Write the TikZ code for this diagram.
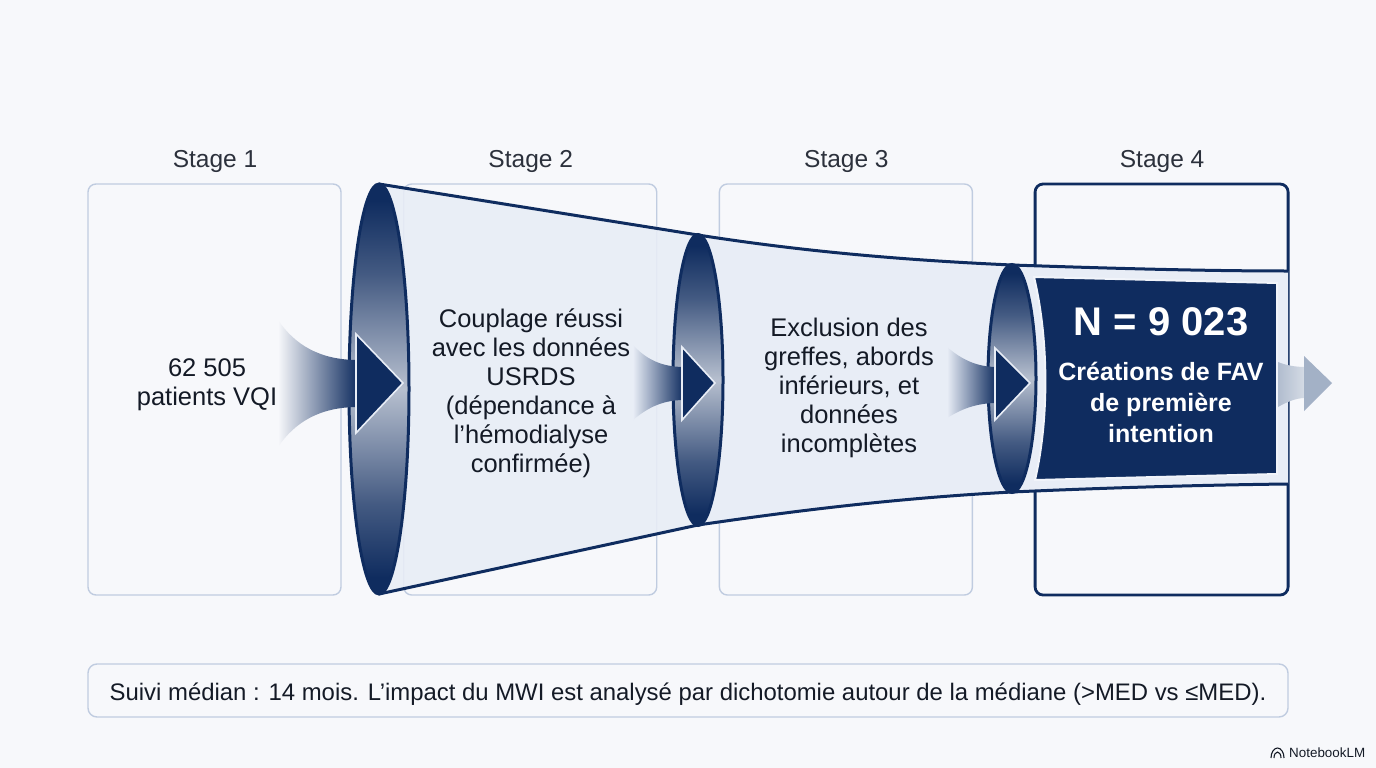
\documentclass[tikz,border=0pt]{standalone}
\usepackage{fontspec}
\setmainfont{Liberation Sans}
\usetikzlibrary{shapes,positioning}
\definecolor{navy}{HTML}{0F2C5F}
\definecolor{pagebg}{HTML}{F7F8FB}
\definecolor{rim}{HTML}{C0CCE0}
\definecolor{funnelfill}{HTML}{E8EDF6}
\definecolor{ink}{HTML}{141A26}
\definecolor{softarrow}{HTML}{A3B1C6}
\pgfdeclareverticalshading{lensfade}{100bp}{color(0bp)=(navy); color(27bp)=(navy); color(36bp)=(navy!78!white); color(50bp)=(navy!30!white); color(64bp)=(navy!78!white); color(73bp)=(navy); color(100bp)=(navy)}
\begin{document}
\begin{tikzpicture}[x=1pt, y=-1pt, node distance=315.7pt and 315.7pt, on grid,
    stagebox/.style={draw=rim, line width=1.4pt, rounded corners=8pt, minimum width=253pt, minimum height=411pt, inner sep=0pt, outer sep=0pt},
    stagelabel/.style={text=ink!90, font=\fontsize{24.5}{28}\selectfont},
    body/.style={text=ink, align=center, font=\fontsize{25.5}{29}\selectfont},
    lens/.style={ellipse, draw=navy, line width=3pt, inner sep=0pt, outer sep=0pt, shading=lensfade},
    funnelline/.style={draw=navy, line width=3pt},
    tail/.style={right color=navy},
    head/.style={fill=navy, draw=funnelfill, line width=1.6pt, line join=miter}]
    \useasboundingbox (0,0) rectangle (1376,768);
    \fill[pagebg] (0,0) rectangle (1376,768);

    % Four stage frames side by side
    \node[stagebox] (s_1) at (214.5,389.5) {};
    \node[stagebox] (s_2) [right=of s_1] {};
    \node[stagebox] (s_3) [right=of s_2] {};
    \node[stagebox, draw=navy, line width=2.8pt] (s_4) [right=of s_3] {};
    \node[stagelabel] (l_1) at (215,161) {Stage 1};
    \node[stagelabel] (l_2) [right=of l_1] {Stage 2};
    \node[stagelabel] (l_3) [right=of l_2] {Stage 3};
    \node[stagelabel] (l_4) [right=of l_3] {Stage 4};

    % Funnel anchors
    \coordinate (e_1) at (379,389);
    \coordinate (e_2) at (698,380);
    \coordinate (e_3) at (1012,378.5);
    \coordinate (n_1) at (379,184);
    \coordinate (n_2) at (698,235);
    \coordinate (n_3) at (1012,265);
    \coordinate (b_1) at (379,594);
    \coordinate (b_2) at (698,525);
    \coordinate (b_3) at (1012,492);
    \coordinate (end_t) at (1288,271);
    \coordinate (end_b) at (1288,484);

    % Funnel walls, then lenses on top
    \fill[funnelfill, opacity=.88] (n_1) -- (n_2) -- (b_2) -- (b_1) -- cycle;
    \fill[funnelfill] (n_2) .. controls (800,251) and (900,260) .. (n_3) -- (b_3) .. controls (900,498) and (800,510) .. (b_2) -- cycle;
    \fill[funnelfill] (n_3) -- (end_t) -- (end_b) -- (b_3) -- cycle;
    \path[funnelline] (n_1) -- (n_2) .. controls (800,251) and (900,260) .. (n_3) .. controls (1100,268) and (1200,271) .. (end_t);
    \path[funnelline] (b_1) -- (b_2) .. controls (800,510) and (900,498) .. (b_3) .. controls (1100,488) and (1200,485) .. (end_b);
    \node[lens, minimum width=60pt, minimum height=410pt] (o_1) at (e_1) {};
    \node[lens, minimum width=50pt, minimum height=291pt] (o_2) at (e_2) {};
    \node[lens, minimum width=48pt, minimum height=228pt] (o_3) at (e_3) {};

    % Result panel
    \fill[navy, draw=funnelfill!60!white, line width=2pt] (1034,277) -- (1277,283) -- (1277,474) -- (1035,480) .. controls (1049,420) and (1049,340) .. (1034,277) -- cycle;

    % Arrows
    \path[tail, left color=pagebg] (278,320) .. controls (295,345) and (320,360) .. (358,360) -- (358,407) .. controls (320,407) and (295,422) .. (278,447) -- cycle;
    \path[head] (356,360) -- (356,334) -- (403,383) -- (356,433) -- (356,407) -- cycle;
    \path[tail, left color=funnelfill] (633,345) .. controls (645,358) and (660,367) .. (684,367) -- (684,400) .. controls (660,400) and (645,410) .. (633,420) -- cycle;
    \path[head] (682,367) -- (682,347) -- (715,383) -- (682,420) -- (682,400) -- cycle;
    \path[tail, left color=funnelfill] (947,347) .. controls (960,358) and (975,367) .. (997,367) -- (997,403) .. controls (975,403) and (960,410) .. (947,418) -- cycle;
    \path[head] (995,367) -- (995,348) -- (1030,383) -- (995,420) -- (995,403) -- cycle;
    \path[left color=softarrow!85!white, right color=softarrow!45!white] (1278,362) .. controls (1285,365) and (1295,367) .. (1305,367) -- (1305,398) .. controls (1295,398) and (1285,403) .. (1278,407) -- cycle;
    \fill[softarrow] (1304,367) -- (1304,356) -- (1332,383) -- (1304,411) -- (1304,398) -- cycle;

    % Texts
    \node[body] (t_1) at (207,385) {62 505\\patients VQI};
    \node[body] (t_2) at (531,393) {Couplage réussi\\avec les données\\USRDS\\(dépendance à\\l’hémodialyse\\confirmée)};
    \node[body] (t_3) at (849,387.5) {Exclusion des\\greffes, abords\\inférieurs, et\\données\\incomplètes};
    \node[text=white, font=\fontsize{40}{44}\selectfont\bfseries] (n_4) at (1161,322) {N = 9 023};
    \node[body, text=white, font=\fontsize{25}{31}\selectfont\bfseries] (t_4) at (1161,402) {Créations de FAV\\de première\\intention};

    % Footnote
    \node[draw=rim, line width=1.4pt, rounded corners=9pt, fill=pagebg, minimum width=1200pt, minimum height=53pt] (note) at (688,690.5) {};
    \node[text=ink, font=\fontsize{23.9}{28}\selectfont] (note_t) at (688,694.5) {Suivi médian : 14 mois. L’impact du MWI est analysé par dichotomie autour de la médiane (>MED vs ≤MED).};

    % Corner mark
    \node[text=ink, anchor=west, inner sep=0pt, font=\fontsize{13.4}{15}\selectfont] (mark) at (1289,753) {NotebookLM};
    \draw[ink, line width=1.1pt] (1271,758) arc (180:0:6.5pt and 10pt);
    \draw[ink, line width=1.1pt] (1274,758) arc (180:0:3.5pt and 6pt);
\end{tikzpicture}
\end{document}
